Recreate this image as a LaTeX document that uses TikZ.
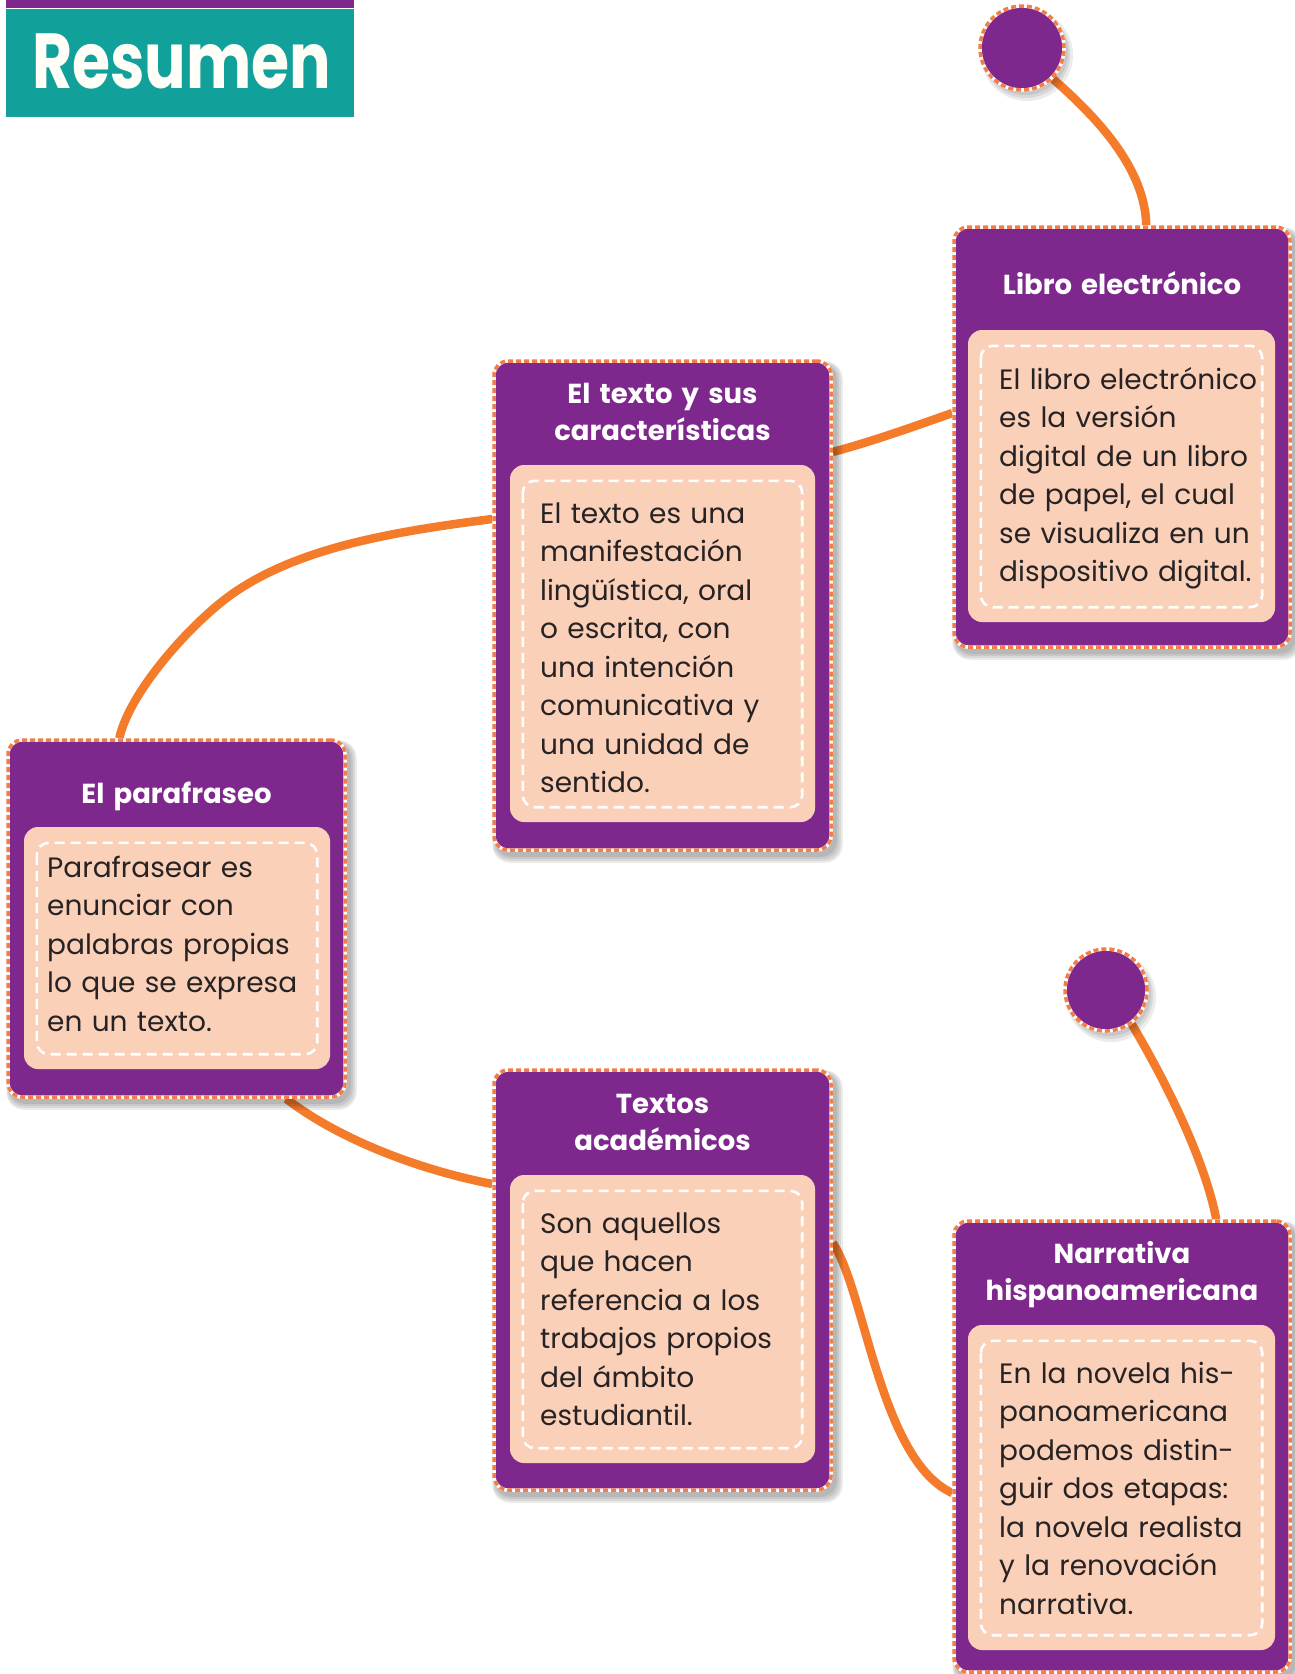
\documentclass[tikz,border=0pt]{standalone}
\usepackage{fontspec}
\setmainfont{Poppins}
\usetikzlibrary{calc}
\definecolor{cardpurple}{HTML}{7E288E}
\definecolor{peach}{HTML}{FAD0B8}
\definecolor{teal}{HTML}{12A19A}
\definecolor{lineorange}{HTML}{F47B2A}
\definecolor{dashorange}{HTML}{F47C45}
\definecolor{bodytext}{HTML}{272324}
\pgfdeclarelayer{bg}
\pgfdeclarelayer{shadowlayer}
\pgfsetlayers{bg,shadowlayer,main}
\tikzset{
  cardbox/.style={rectangle, rounded corners=14pt, fill=cardpurple, inner sep=0pt,
    draw=white, line width=3.5pt,
    postaction={draw=dashorange, line width=3.5pt, dash pattern=on 5pt off 3pt}},
  dot/.style={circle, fill=cardpurple, inner sep=0pt, minimum size=84pt,
    draw=white, line width=3.5pt,
    postaction={draw=dashorange, line width=3.5pt, dash pattern=on 5pt off 3pt}},
  peachbox/.style={rectangle, rounded corners=14pt, fill=peach, inner sep=0pt},
  innerdash/.style={draw=white, line width=2.6pt, dash pattern=on 10pt off 6pt, rounded corners=12pt},
  connector/.style={draw=lineorange, line width=8.5pt},
  titletext/.style={inner sep=0pt, anchor=base, text width=330pt, align=center, text=white,
    font=\fontsize{27.5}{37.5}\selectfont\bfseries},
  bodytextstyle/.style={inner sep=0pt, anchor=base west, text width=300pt, align=left, text=bodytext,
    font=\fontsize{28}{38.5}\selectfont},
  shadowfill/.style={fill=black, opacity=0.08}
}
\newcommand{\cardshadow}[1]{%
  \begin{pgfonlayer}{shadowlayer}
    \fill[shadowfill, rounded corners=18pt] ([shift={(0pt,-2pt)}]#1.north west) rectangle ([shift={(10pt,-11pt)}]#1.south east);
    \fill[shadowfill, rounded corners=16pt] ([shift={(1pt,-3pt)}]#1.north west) rectangle ([shift={(8pt,-9pt)}]#1.south east);
    \fill[shadowfill, rounded corners=16pt] ([shift={(2pt,-4pt)}]#1.north west) rectangle ([shift={(6pt,-7pt)}]#1.south east);
    \fill[shadowfill, rounded corners=16pt] ([shift={(3pt,-4pt)}]#1.north west) rectangle ([shift={(4pt,-5pt)}]#1.south east);
  \end{pgfonlayer}}
\newcommand{\innerframe}[1]{%
  \draw[innerdash] ([shift={(13pt,-16pt)}]#1.north west) rectangle ([shift={(-13pt,15pt)}]#1.south east);}
\begin{document}
\begin{tikzpicture}[x=1pt,y=-1pt]
\useasboundingbox (0,0) rectangle (1294,1674);
\begin{pgfonlayer}{bg}
\fill[white] (0,0) rectangle (1294,1674);
\end{pgfonlayer}

% header
\fill[cardpurple] (6,0) rectangle (354,7.5);
\node[rectangle, fill=teal, minimum width=348pt, minimum height=108pt, inner sep=0pt] (header) at (180,63) {};
\node[inner sep=0pt, anchor=base west, text=white!97!yellow, font=\fontsize{78}{78}\selectfont\bfseries] (headertext) at (32,88) {\scalebox{0.79}[1]{Resumen}};

% circles
\node[dot] (c1) at (1022,48) {};
\node[dot, minimum size=82pt] (c2) at (1106,990) {};
\begin{pgfonlayer}{shadowlayer}
  \fill[shadowfill] ([shift={(5pt,-7pt)}]c1.center) circle (46pt);
  \fill[shadowfill] ([shift={(4pt,-6pt)}]c1.center) circle (44pt);
  \fill[shadowfill] ([shift={(3pt,-4pt)}]c1.center) circle (43pt);
  \fill[shadowfill] ([shift={(5pt,-7pt)}]c2.center) circle (45pt);
  \fill[shadowfill] ([shift={(4pt,-6pt)}]c2.center) circle (43pt);
  \fill[shadowfill] ([shift={(3pt,-4pt)}]c2.center) circle (42pt);
\end{pgfonlayer}

% cards
\node[cardbox, minimum width=336pt, minimum height=420pt] (libro) at (1122,437) {};
\node[cardbox, minimum width=337pt, minimum height=489pt] (texto) at (662.5,605.5) {};
\node[cardbox, minimum width=337pt, minimum height=357pt] (para) at (176.5,918.5) {};
\node[cardbox, minimum width=337pt, minimum height=420pt] (textos) at (662.5,1280) {};
\node[cardbox, minimum width=336pt, minimum height=451pt] (narr) at (1122,1446.5) {};
\cardshadow{libro}\cardshadow{texto}\cardshadow{para}\cardshadow{textos}\cardshadow{narr}

% peach boxes
\node[peachbox, minimum width=307pt, minimum height=292pt] (librop) at (1121.5,476) {};
\node[peachbox, minimum width=305pt, minimum height=357pt] (textop) at (662.5,643.5) {};
\node[peachbox, minimum width=306pt, minimum height=242pt] (parap) at (177,948) {};
\node[peachbox, minimum width=305pt, minimum height=288pt] (textosp) at (662.5,1319) {};
\node[peachbox, minimum width=307pt, minimum height=325pt] (narrp) at (1121.5,1487.5) {};
\innerframe{librop}\innerframe{textop}\innerframe{parap}\innerframe{textosp}\innerframe{narrp}

% titles
\node[titletext] (librot) at (1122,294) {Libro electrónico};
\node[titletext] (textot) at (662.5,403) {El texto y sus\\características};
\node[titletext] (parat) at (176.5,803) {El parafraseo};
\node[titletext] (textost) at (662.5,1113) {Textos\\académicos};
\node[titletext] (narrt) at (1122,1263) {Narrativa\\hispanoamericana};

% bodies
\node[bodytextstyle] (librob) at (999,389) {El libro electrónico\\es la versión\\digital de un libro\\de papel, el cual\\se visualiza en un\\dispositivo digital.};
\node[bodytextstyle] (textob) at (540,523) {El texto es una\\manifestación\\lingüística, oral\\o escrita, con\\una intención\\comunicativa y\\una unidad de\\sentido.};
\node[bodytextstyle] (parab) at (47,877) {Parafrasear es\\enunciar con\\palabras propias\\lo que se expresa\\en un texto.};
\node[bodytextstyle] (textosb) at (540,1233) {Son aquellos\\que hacen\\referencia a los\\trabajos propios\\del ámbito\\estudiantil.};
\node[bodytextstyle] (narrb) at (999,1383) {En la novela his-\\panoamericana\\podemos distin-\\guir dos etapas:\\la novela realista\\y la renovación\\narrativa.};

% connectors
\begin{pgfonlayer}{bg}
\coordinate (bend3) at (235,592);
\draw[connector] (c1.-45) .. controls (1100,120) and (1145,170) .. ([xshift=194pt]libro.north west);
\draw[connector] ([yshift=24pt]libro.west) .. controls (910,428) and (870,442) .. ([yshift=153.5pt]texto.east);
\draw[connector] ([yshift=86.5pt]texto.west) .. controls (390,532) and (300,548) .. (bend3)
  .. controls (195,619) and (130,690) .. ([xshift=113pt]para.north west);
\draw[connector] ([xshift=280pt]para.south west) .. controls (340,1140) and (420,1170) .. ([yshift=96pt]textos.west);
\draw[connector] ([yshift=37pt]textos.east) .. controls (865,1290) and (880,1460) .. ([yshift=-46.5pt]narr.west);
\draw[connector] (c2.-53) .. controls (1165,1080) and (1205,1160) .. ([xshift=264pt]narr.north west);
\end{pgfonlayer}
\end{tikzpicture}
\end{document}
